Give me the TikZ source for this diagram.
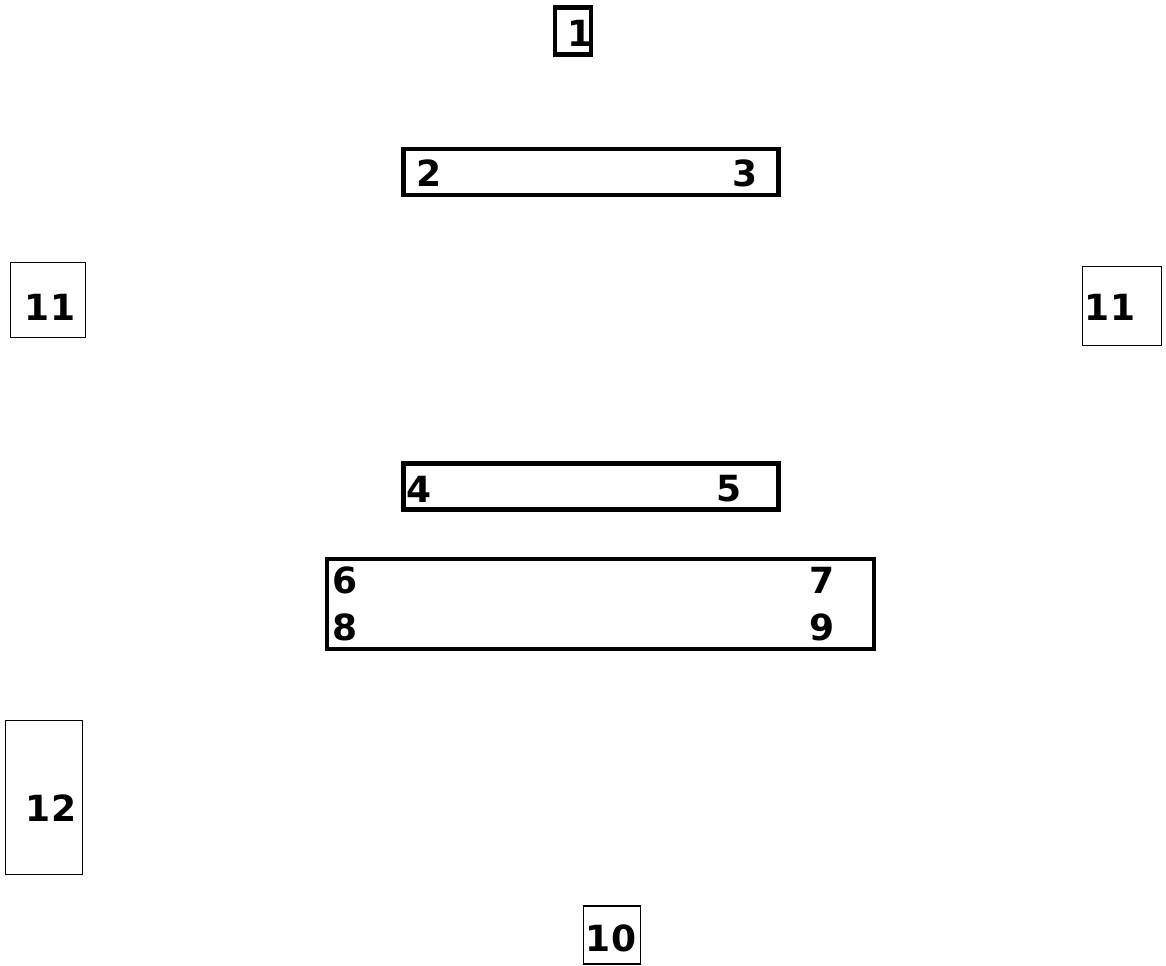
\documentclass[tikz,border=0pt]{standalone}
\usepackage{fontspec}
\setmainfont{DejaVu Sans}
\usetikzlibrary{positioning}
\tikzset{
  heavybox/.style={rectangle, draw=black, line width=2.6pt, inner sep=0pt},
  lightbox/.style={rectangle, draw=black, line width=1.1pt, inner sep=0pt},
  num/.style={font=\fontsize{20.5}{24}\selectfont\bfseries, inner sep=0pt}
}
\begin{document}
\begin{tikzpicture}
  \useasboundingbox (0,0) rectangle (23.32,-19.30);

  % Top
  \node[heavybox, minimum width=0.72cm, minimum height=0.94cm] (b1) at (11.46,-0.62) {};
  \node[num] (n1) at (11.60,-0.66) {1};

  \node[heavybox, minimum width=7.50cm, minimum height=0.92cm] (b23) at (11.82,-3.44) {};
  \node[num] (n2) at (8.58,-3.46) {2};
  \node[num] (n3) at (14.90,-3.46) {3};

  % Sides
  \node[lightbox, minimum width=1.50cm, minimum height=1.50cm] (b11l) at (0.96,-6.00) {};
  \node[num] (n11l) at (1.00,-6.14) {11};
  \node[lightbox, minimum width=1.58cm, minimum height=1.58cm] (b11r) at (22.44,-6.12) {};
  \node[num] (n11r) at (22.20,-6.14) {11};

  % Middle
  \node[heavybox, minimum width=7.50cm, minimum height=0.92cm] (b45) at (11.82,-9.73) {};
  \node[num] (n4) at (8.38,-9.78) {4};
  \node[num] (n5) at (14.58,-9.78) {5};

  \node[heavybox, minimum width=10.94cm, minimum height=1.80cm] (b69) at (12.01,-12.08) {};
  \node[num] (n6) at (6.90,-11.60) {6};
  \node[num] (n7) at (16.44,-11.60) {7};
  \node[num] (n8) at (6.90,-12.54) {8};
  \node[num] (n9) at (16.44,-12.54) {9};

  % Bottom
  \node[lightbox, minimum width=1.54cm, minimum height=3.08cm] (b12) at (0.88,-15.95) {};
  \node[num] (n12) at (1.02,-16.16) {12};
  \node[lightbox, minimum width=1.14cm, minimum height=1.16cm] (b10) at (12.24,-18.70) {};
  \node[num] (n10) at (12.22,-18.76) {10};
\end{tikzpicture}
\end{document}
